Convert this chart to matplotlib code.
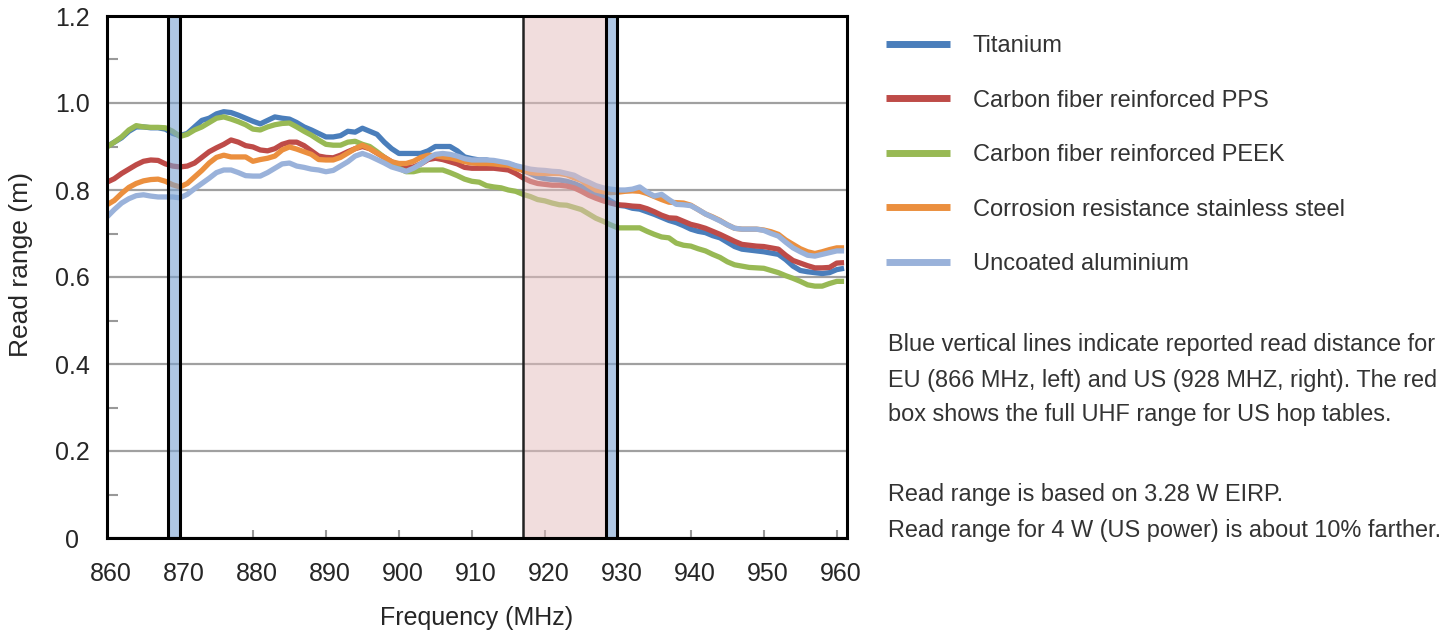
import numpy as np
import matplotlib
matplotlib.use('Agg')
import matplotlib.pyplot as plt
import matplotlib.transforms as mtransforms

plt.rcParams['font.family'] = ['Liberation Sans', 'DejaVu Sans']

# frequency categories (MHz)
freq = np.arange(860, 962)

titanium = [
    0.900, 0.910, 0.920, 0.935, 0.945, 0.945, 0.943, 0.943, 0.940, 0.930,
    0.925, 0.930, 0.945, 0.960, 0.965, 0.975, 0.980, 0.978, 0.972, 0.965,
    0.958, 0.952, 0.960, 0.968, 0.965, 0.963, 0.955, 0.945, 0.938, 0.930,
    0.922, 0.922, 0.925, 0.935, 0.933, 0.942, 0.935, 0.928, 0.910, 0.895,
    0.884, 0.884, 0.884, 0.884, 0.890, 0.900, 0.900, 0.900, 0.890, 0.876,
    0.872, 0.869, 0.869, 0.865, 0.862, 0.860, 0.855, 0.845, 0.838, 0.830,
    0.826, 0.824, 0.823, 0.820, 0.815, 0.808, 0.800, 0.792, 0.785, 0.775,
    0.765, 0.763, 0.758, 0.756, 0.750, 0.744, 0.737, 0.730, 0.725, 0.718,
    0.710, 0.705, 0.702, 0.695, 0.690, 0.680, 0.670, 0.664, 0.662, 0.660,
    0.658, 0.655, 0.652, 0.640, 0.625, 0.615, 0.612, 0.610, 0.608, 0.610,
    0.617, 0.620]

cf_pps = [
    0.818, 0.826, 0.838, 0.848, 0.858, 0.866, 0.869, 0.868, 0.860, 0.855,
    0.853, 0.855, 0.862, 0.875, 0.888, 0.897, 0.905, 0.915, 0.910, 0.902,
    0.899, 0.892, 0.890, 0.895, 0.905, 0.910, 0.910, 0.902, 0.890, 0.878,
    0.875, 0.874, 0.880, 0.888, 0.895, 0.900, 0.895, 0.885, 0.875, 0.865,
    0.855, 0.852, 0.853, 0.860, 0.870, 0.873, 0.870, 0.865, 0.860, 0.852,
    0.850, 0.850, 0.850, 0.850, 0.848, 0.846, 0.838, 0.828, 0.820, 0.815,
    0.813, 0.811, 0.811, 0.809, 0.805, 0.797, 0.788, 0.781, 0.775, 0.770,
    0.766, 0.765, 0.763, 0.762, 0.757, 0.750, 0.742, 0.736, 0.735, 0.728,
    0.721, 0.717, 0.712, 0.705, 0.698, 0.690, 0.682, 0.675, 0.673, 0.671,
    0.670, 0.667, 0.664, 0.650, 0.638, 0.632, 0.626, 0.621, 0.621, 0.622,
    0.632, 0.633]

cf_peek = [
    0.899, 0.910, 0.922, 0.938, 0.948, 0.945, 0.944, 0.944, 0.943, 0.935,
    0.923, 0.928, 0.938, 0.945, 0.955, 0.965, 0.968, 0.963, 0.957, 0.950,
    0.940, 0.938, 0.945, 0.950, 0.953, 0.954, 0.945, 0.935, 0.926, 0.915,
    0.905, 0.903, 0.903, 0.910, 0.912, 0.905, 0.900, 0.888, 0.875, 0.862,
    0.850, 0.842, 0.842, 0.846, 0.846, 0.846, 0.846, 0.840, 0.833, 0.825,
    0.820, 0.818, 0.810, 0.807, 0.805, 0.800, 0.797, 0.790, 0.785, 0.778,
    0.775, 0.770, 0.766, 0.765, 0.760, 0.755, 0.745, 0.735, 0.728, 0.720,
    0.713, 0.713, 0.713, 0.713, 0.705, 0.698, 0.692, 0.690, 0.678, 0.673,
    0.671, 0.665, 0.660, 0.652, 0.645, 0.635, 0.628, 0.625, 0.622, 0.621,
    0.620, 0.615, 0.610, 0.603, 0.597, 0.590, 0.582, 0.579, 0.579, 0.585,
    0.590, 0.590]

steel = [
    0.766, 0.776, 0.792, 0.806, 0.815, 0.821, 0.824, 0.825, 0.820, 0.812,
    0.807, 0.815, 0.830, 0.845, 0.862, 0.875, 0.880, 0.876, 0.876, 0.876,
    0.866, 0.870, 0.873, 0.878, 0.892, 0.899, 0.894, 0.888, 0.882, 0.870,
    0.869, 0.869, 0.875, 0.885, 0.895, 0.903, 0.895, 0.885, 0.875, 0.865,
    0.861, 0.861, 0.866, 0.875, 0.880, 0.879, 0.876, 0.874, 0.870, 0.865,
    0.862, 0.861, 0.861, 0.860, 0.858, 0.857, 0.850, 0.845, 0.840, 0.838,
    0.838, 0.838, 0.838, 0.835, 0.828, 0.822, 0.810, 0.800, 0.796, 0.794,
    0.795, 0.797, 0.798, 0.797, 0.792, 0.785, 0.778, 0.772, 0.771, 0.770,
    0.765, 0.755, 0.745, 0.738, 0.730, 0.720, 0.712, 0.710, 0.710, 0.710,
    0.708, 0.704, 0.698, 0.685, 0.675, 0.665, 0.658, 0.654, 0.658, 0.663,
    0.667, 0.667]

aluminium = [
    0.738, 0.755, 0.770, 0.780, 0.787, 0.789, 0.786, 0.784, 0.784, 0.784,
    0.782, 0.790, 0.803, 0.815, 0.827, 0.840, 0.846, 0.846, 0.840, 0.833,
    0.832, 0.832, 0.840, 0.850, 0.860, 0.862, 0.855, 0.852, 0.848, 0.846,
    0.842, 0.845, 0.855, 0.865, 0.878, 0.884, 0.878, 0.870, 0.862, 0.853,
    0.848, 0.843, 0.850, 0.860, 0.872, 0.882, 0.884, 0.882, 0.878, 0.872,
    0.869, 0.869, 0.869, 0.868, 0.865, 0.862, 0.856, 0.852, 0.848, 0.846,
    0.845, 0.843, 0.842, 0.838, 0.834, 0.825, 0.818, 0.810, 0.805, 0.802,
    0.800, 0.800, 0.802, 0.807, 0.795, 0.786, 0.790, 0.778, 0.767, 0.766,
    0.764, 0.755, 0.745, 0.737, 0.729, 0.720, 0.712, 0.710, 0.710, 0.710,
    0.707, 0.700, 0.694, 0.680, 0.667, 0.658, 0.650, 0.648, 0.652, 0.656,
    0.660, 0.660]

series = [titanium, cf_pps, cf_peek, steel, aluminium]
labels = ['Titanium', 'Carbon fiber reinforced PPS', 'Carbon fiber reinforced PEEK',
          'Corrosion resistance stainless steel', 'Uncoated aluminium']
colors = ['#4A7EBB', '#BE4B48', '#98B954', '#EB8F3E', '#9AB2DA']

# marked bands (MHz)
eu_band = (868.3, 870.0)
us_band = (928.4, 929.9)
hop_range = (917.0, 928.4)

yticks = [0, 0.2, 0.4, 0.6, 0.8, 1.0, 1.2]
ytick_labels = ['0', '0.2', '0.4', '0.6', '0.8', '1.0', '1.2']
xticks = [860, 870, 880, 890, 900, 910, 920, 930, 940, 950, 960]

note_1 = ['Blue vertical lines indicate reported read distance for',
          'EU (866 MHz, left) and US (928 MHZ, right). The red',
          'box shows the full UHF range for US hop tables.']
note_2 = ['Read range is based on 3.28 W EIRP.',
          'Read range for 4 W (US power) is about 10% farther.']

W, H = 1444, 634
fig = plt.figure(figsize=(W / 100, H / 100), dpi=100)
ax = fig.add_axes([107 / W, 96 / H, 740 / W, 522 / H])

lines = []
for vals, lab, col in zip(series, labels, colors):
    ln, = ax.plot(freq, vals, color=col, lw=3.8, label=lab, zorder=2,
                  solid_capstyle='butt')
    lines.append(ln)

# red box and blue bars drawn over the lines
ax.axvspan(*hop_range, facecolor=(229 / 255, 189 / 255, 189 / 255, 0.5),
           edgecolor='#222222', lw=1.8, zorder=3)
for band in (eu_band, us_band):
    ax.axvspan(*band, facecolor=(123 / 255, 163 / 255, 210 / 255, 0.6),
               edgecolor='black', lw=2.2, zorder=4)

ax.set_xlim(860, 961.4)
ax.set_ylim(0, 1.2)

ax.set_yticks(yticks)
ax.set_yticklabels(ytick_labels)
ax.set_yticks([0.1, 0.3, 0.5, 0.7, 0.9, 1.1], minor=True)
ax.set_xticks(xticks)
ax.set_xticklabels([str(x) for x in xticks])

ax.yaxis.grid(True, which='major', color='#A0A0A0', lw=1.6, zorder=1)
ax.set_axisbelow(True)

ax.tick_params(axis='y', which='major', length=0, pad=25, labelsize=18,
               labelcolor='#262626')
for lbl in ax.get_yticklabels():
    lbl.set_horizontalalignment('center')
ax.tick_params(axis='y', which='minor', direction='in', length=8, width=1.5,
               color='#999999')
ax.tick_params(axis='x', which='major', direction='in', length=6, width=1.5,
               color='#999999', pad=17, labelsize=18, labelcolor='#262626')

# x labels sit a little right of their ticks in the original
shift = mtransforms.ScaledTranslation(4 / 100, 0, fig.dpi_scale_trans)
for lbl in ax.get_xticklabels():
    lbl.set_transform(lbl.get_transform() + shift)

for sp in ax.spines.values():
    sp.set_linewidth(2.2)
    sp.set_color('black')
    sp.set_zorder(5)

ax.set_xlabel('Frequency (MHz)', fontsize=18, color='#262626')
ax.xaxis.set_label_coords(0.5, -0.131)
ax.set_ylabel('Read range (m)', fontsize=19, color='#262626')
ax.yaxis.set_label_coords(-0.1, 0.523)

leg = fig.legend(handles=lines, loc='upper left',
                 bbox_to_anchor=(886 / W, 1 - 35 / H), frameon=False,
                 fontsize=17, handlelength=2.7, handletextpad=0.97,
                 labelspacing=1.38, borderpad=0, borderaxespad=0)
for t in leg.get_texts():
    t.set_color('#333333')
for hl in leg.get_lines():
    hl.set_linewidth(5)

for i, line in enumerate(note_1):
    fig.text(888 / W, 1 - (345 + 35 * i) / H, line, fontsize=16.9,
             va='center', color='#333333')
for i, line in enumerate(note_2):
    fig.text(888 / W, 1 - (495 + 35 * i) / H, line, fontsize=16.9,
             va='center', color='#333333')

fig.savefig('out.png', dpi=100)
